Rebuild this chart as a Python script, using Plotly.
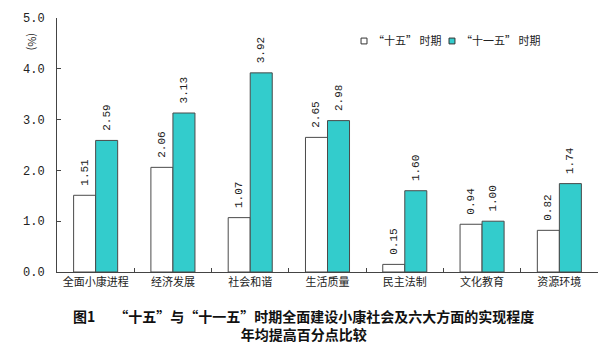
import plotly.graph_objects as go

categories = ["全面小康进程", "经济发展", "社会和谐", "生活质量", "民主法制", "文化教育", "资源环境"]
series_names = ["“十五” 时期", "“十一五” 时期"]
values_10th = [1.51, 2.06, 1.07, 2.65, 0.15, 0.94, 0.82]
values_11th = [2.59, 3.13, 3.92, 2.98, 1.60, 1.00, 1.74]
y_ticks = [0.0, 1.0, 2.0, 3.0, 4.0, 5.0]
fig_label = "图1"
title_line1 = "“十五”与“十一五”时期全面建设小康社会及六大方面的实现程度"
title_line2 = "年均提高百分点比较"

colors = ["white", "#33CCCC"]
num_font = "Liberation Mono, DejaVu Sans Mono, monospace"
cjk_font = "Noto Sans CJK SC, sans-serif"

fig = go.Figure()
for name, vals, col in zip(series_names, [values_10th, values_11th], colors):
    fig.add_trace(go.Bar(
        x=categories, y=vals, name=name,
        marker=dict(color=col, line=dict(color="#4a4a4a", width=1)),
        text=["\u00a0" + f"{v:.2f}" for v in vals], textposition="outside",
        textangle=-90, constraintext="none",
        textfont=dict(family=num_font, size=11, color="#222"),
        cliponaxis=False, showlegend=False,
    ))

shapes = []
annotations = []
# manual legend (small squares + labels)
leg_x = [0.562, 0.7246]
for i, (name, col) in enumerate(zip(series_names, colors)):
    shapes.append(dict(type="rect", xref="paper", yref="paper",
                       x0=leg_x[i], x1=leg_x[i] + 0.011, y0=0.898, y1=0.921,
                       fillcolor=col, line=dict(color="#333", width=1)))
    annotations.append(dict(text=name, x=leg_x[i] + 0.019, y=0.912, xref="paper", yref="paper",
                            xanchor="left", yanchor="middle", showarrow=False,
                            font=dict(family=cjk_font, size=11, color="#222")))

title_text = ("<b>" + fig_label + "\u00a0\u00a0\u00a0\u00a0\u00a0\u00a0" + title_line1 + "</b><br>"
              "<b>" + title_line2 + "</b>")
annotations += [
    dict(text="(%)", textangle=90, x=-0.0444, y=0.906, xref="paper", yref="paper",
         xanchor="center", yanchor="middle", showarrow=False,
         font=dict(family=cjk_font, size=11, color="#222")),
    dict(text=title_text, x=0.455, y=-0.21, xref="paper", yref="paper",
         xanchor="center", yanchor="middle", align="center", showarrow=False,
         font=dict(family=cjk_font, size=14, color="#111")),
]

fig.update_layout(
    width=611, height=359,
    margin=dict(l=57, r=13, t=18, b=87),
    paper_bgcolor="white", plot_bgcolor="white",
    barmode="group", bargap=0.43, bargroupgap=0,
    showlegend=False,
    xaxis=dict(showline=True, linecolor="#444", linewidth=1,
               ticks="inside", ticklen=4, tickcolor="#444",
               tickson="boundaries", showgrid=False,
               tickfont=dict(family=cjk_font, size=11, color="#222")),
    yaxis=dict(range=[0, 5], tickvals=y_ticks, ticktext=[f"{v:.1f}" for v in y_ticks],
               showline=True, linecolor="#444", linewidth=1,
               ticks="inside", ticklen=4, tickcolor="#444", showgrid=False,
               zeroline=False, ticklabelstandoff=9,
               tickfont=dict(family=num_font, size=12, color="#222")),
    shapes=shapes,
    annotations=annotations,
)

fig.write_html("out.html", config={"displayModeBar": False},
               post_script="document.body.style.margin='0';")
